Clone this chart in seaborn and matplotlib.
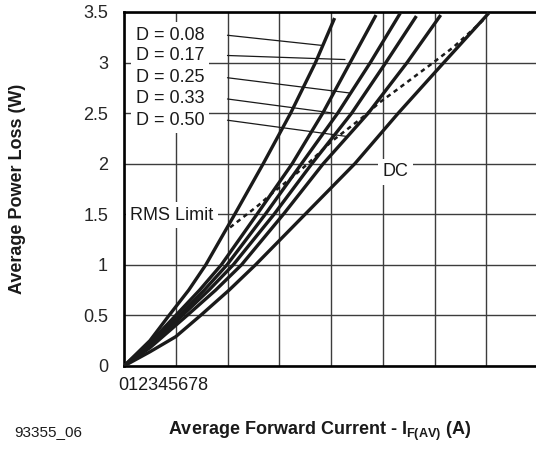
import matplotlib
matplotlib.use("Agg")
import matplotlib.pyplot as plt
import seaborn as sns
import pandas as pd

# ---------------- data ----------------
curve_names = ["D = 0.08", "D = 0.17", "D = 0.25", "D = 0.33", "D = 0.50", "DC"]
# points: current (A) and power loss (W)
curve_x = {
    "D = 0.08": [0.0, 0.5, 0.87, 1.25, 1.58, 2.14, 2.69, 3.22, 3.70, 4.07],
    "D = 0.17": [0.0, 0.5, 1.00, 1.46, 1.88, 2.57, 3.25, 3.84, 4.37, 4.87],
    "D = 0.25": [0.0, 0.5, 1.07, 1.55, 1.99, 2.73, 3.43, 4.13, 4.76, 5.34],
    "D = 0.33": [0.0, 0.5, 1.13, 1.64, 2.11, 2.90, 3.63, 4.40, 5.06, 5.65],
    "D = 0.50": [0.0, 0.5, 1.22, 1.77, 2.27, 3.08, 3.85, 4.72, 5.47, 6.12],
    "DC":       [0.0, 0.5, 1.00, 1.48, 2.03, 2.54, 3.50, 4.46, 5.30, 6.18, 7.05],
}
curve_y = {
    "D = 0.08": [0.0, 0.25, 0.5, 0.75, 1.0, 1.5, 2.0, 2.5, 3.0, 3.44],
    "D = 0.17": [0.0, 0.23, 0.5, 0.75, 1.0, 1.5, 2.0, 2.5, 3.0, 3.47],
    "D = 0.25": [0.0, 0.21, 0.5, 0.75, 1.0, 1.5, 2.0, 2.5, 3.0, 3.49],
    "D = 0.33": [0.0, 0.20, 0.5, 0.75, 1.0, 1.5, 2.0, 2.5, 3.0, 3.46],
    "D = 0.50": [0.0, 0.18, 0.5, 0.75, 1.0, 1.5, 2.0, 2.5, 3.0, 3.47],
    "DC":       [0.0, 0.14, 0.29, 0.5, 0.75, 1.0, 1.5, 2.0, 2.5, 3.0, 3.49],
}

rms_x = [2.05, 2.60, 2.89, 3.21, 3.53, 4.01, 4.59, 4.95, 5.27, 5.95, 6.36, 6.88, 7.00]
rms_y = [1.37, 1.59, 1.72, 1.85, 1.99, 2.22, 2.45, 2.61, 2.73, 2.99, 3.15, 3.39, 3.45]

duty_labels = ["D = 0.08", "D = 0.17", "D = 0.25", "D = 0.33", "D = 0.50"]
leader_start_x = [2.0, 2.0, 2.0, 2.0, 2.0]
leader_start_y = [3.27, 3.07, 2.85, 2.64, 2.43]
leader_end_x = [3.82, 4.27, 4.35, 4.05, 4.30]
leader_end_y = [3.17, 3.03, 2.70, 2.50, 2.27]

x_tick_values = [0, 1, 2, 3, 4, 5, 6, 7, 8]
x_tick_labels = ["0", "1", "2", "3", "4", "5", "6", "7", "8"]
y_tick_values = [0, 0.5, 1, 1.5, 2, 2.5, 3, 3.5]
y_tick_labels = ["0", "0.5", "1", "1.5", "2", "2.5", "3", "3.5"]

# ---------------- style ----------------
sns.set_theme(style="white")
plt.rcParams["font.family"] = ["Liberation Sans", "DejaVu Sans"]
plt.rcParams["mathtext.fontset"] = "custom"
plt.rcParams["mathtext.rm"] = "Liberation Sans"
plt.rcParams["mathtext.bf"] = "Liberation Sans:bold"

W, H = 536, 449
fig = plt.figure(figsize=(W / 100, H / 100), dpi=100)
ax = fig.add_axes([124 / W, 1 - 366 / H, 414 / W, 354 / H])

ink = "#1a1a1a"

rows = []
for name in curve_names:
    for i, (xv, yv) in enumerate(zip(curve_x[name], curve_y[name])):
        rows.append({"curve": name, "order": i, "I": xv, "P": yv})
df = pd.DataFrame(rows)

for name in curve_names:
    sub = df[df["curve"] == name]
    sns.lineplot(data=sub, x="I", y="P", sort=False, estimator=None,
                 color=ink, linewidth=2.4, ax=ax, zorder=4,
                 solid_joinstyle="round", solid_capstyle="butt")

rms_df = pd.DataFrame({"I": rms_x, "P": rms_y})
sns.lineplot(data=rms_df, x="I", y="P", sort=False, estimator=None,
             color=ink, linewidth=1.8, ax=ax, zorder=4)
ax.lines[-1].set_dashes([1.8, 1.6])

for sx, sy, ex, ey in zip(leader_start_x, leader_start_y, leader_end_x, leader_end_y):
    ax.plot([sx, ex], [sy, ey], color=ink, linewidth=0.9, zorder=3)

ax.set_xlim(0, 8)
ax.set_ylim(0, 3.5)
ax.set_xticks(x_tick_values)
ax.set_xticklabels([""] * len(x_tick_values))
ax.set_yticks(y_tick_values)
ax.set_yticklabels(y_tick_labels, fontsize=13)
ax.tick_params(axis="both", length=0)
ax.tick_params(axis="y", pad=11.5)
ax.set_xlabel("")
ax.set_ylabel("")

ax.set_axisbelow(True)
ax.grid(True, color="#3c3c3c", linewidth=1.0)
for side in ["left", "top", "bottom", "right"]:
    ax.spines[side].set_color("black")
    ax.spines[side].set_linewidth(1.9)

box = dict(facecolor="white", edgecolor="none", boxstyle="square,pad=0.25")
for lab, ly in zip(duty_labels, leader_start_y):
    ax.text(0.23, ly, lab, fontsize=13, ha="left", va="center", color=ink,
            bbox=box, zorder=2)
ax.text(0.12, 1.49, "RMS Limit", fontsize=13, ha="left", va="center", color=ink,
        bbox=box, zorder=2)
ax.text(5.0, 1.92, "DC", fontsize=13, ha="left", va="center", color=ink,
        bbox=box, zorder=2)

# squeezed x tick label string
fig.text(118 / W, 1 - 386 / H, "".join(x_tick_labels), fontsize=13,
         ha="left", va="center", color=ink)

fig.text(18 / W, 1 - 189 / H, "Average Power Loss (W)", fontsize=13,
         fontweight="bold", rotation=90, ha="center", va="center", color=ink)
fig.text(320 / W, 1 - 431 / H,
         r"Average Forward Current - I$_{\mathbf{F(AV)}}$ (A)",
         fontsize=13, fontweight="bold", ha="center", va="center", color=ink)
fig.text(14 / W, 1 - 432 / H, "93355_06", fontsize=11, ha="left",
         va="center", color=ink)

fig.savefig("out.png", dpi=100)
